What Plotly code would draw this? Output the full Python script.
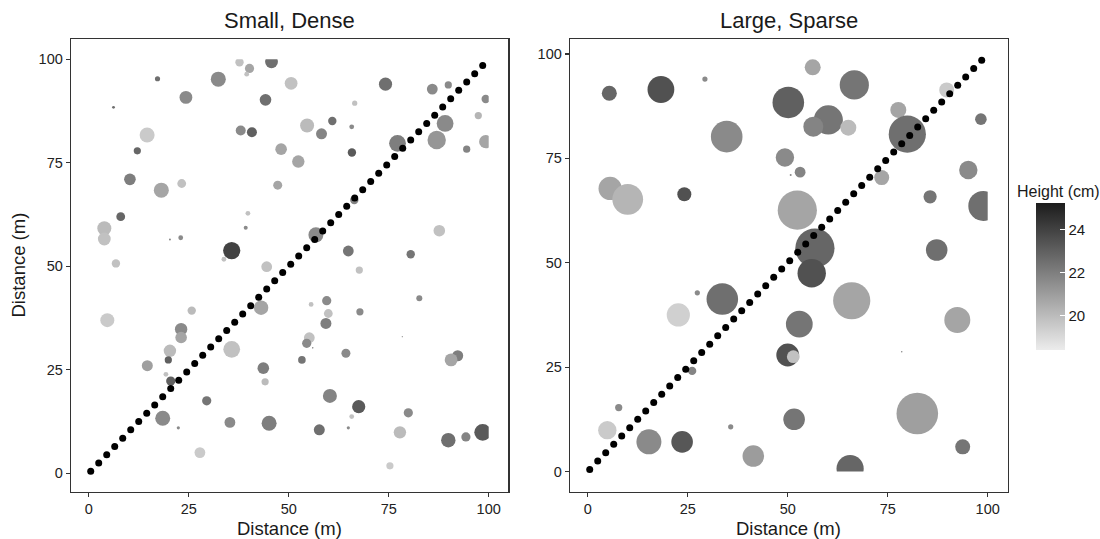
import plotly.graph_objects as go

# ---------------- data ----------------
# Small, Dense panel: crown centre x, y (m), crown diameter (m), height (cm)
x_small = [6.2, 17.2, 32.4, 37.7, 40.2, 39.5, 45.7, 24.3, 50.6, 44.2, 66.5, 74.2, 85.9, 89.9, 99.25,
           97.4, 89.1, 87.0, 77.2, 99.25, 94.5, 65.75, 60.9, 58.2, 54.6, 48.1, 52.4, 65.8, 66.4, 38.0,
           40.8, 47.25, 39.8, 39.25, 35.75, 33.8, 56.8, 64.9, 80.5, 67.65, 87.65, 44.5, 6.8, 3.9, 3.9,
           8.0, 20.3, 23.0, 10.3, 18.15, 23.25, 12.15, 14.6, 4.65, 25.75, 23.1, 23.1, 20.3, 19.9, 14.65,
           19.3, 20.5, 22.4, 18.5, 29.5, 27.8, 35.75, 43.1, 43.65, 44.1, 35.3, 45.1, 55.6, 59.5, 59.9,
           59.3, 55.15, 54.5, 56.0, 53.3, 64.3, 67.8, 82.65, 78.4, 92.25, 90.6, 60.3, 67.5, 65.75, 64.9,
           57.65, 79.9, 77.8, 75.3, 89.9, 94.3, 98.5]
y_small = [88.4, 95.3, 95.2, 99.3, 97.8, 96.4, 99.4, 90.8, 94.2, 90.2, 89.4, 94.0, 92.8, 93.8, 90.4,
           86.4, 84.5, 80.5, 79.7, 80.1, 78.3, 83.7, 85.1, 82.0, 84.0, 78.3, 75.3, 77.5, 66.0, 82.8,
           82.4, 69.6, 62.8, 59.3, 53.8, 51.7, 57.6, 53.7, 52.9, 49.1, 58.6, 49.9, 50.7, 59.2, 56.6,
           62.0, 56.5, 56.9, 71.0, 68.4, 70.0, 77.9, 81.7, 37.0, 39.3, 34.8, 32.8, 29.6, 27.4, 26.0,
           23.9, 22.3, 11.0, 13.3, 17.5, 5.0, 29.95, 40.0, 25.4, 22.1, 12.3, 12.1, 40.8, 41.7, 38.6,
           36.2, 32.75, 31.4, 30.3, 27.4, 29.0, 39.0, 42.3, 33.0, 28.4, 27.4, 18.7, 16.1, 13.7, 11.0,
           10.5, 14.6, 9.9, 1.8, 8.0, 8.8, 9.9]
d_small = [0.7, 1.3, 3.75, 2.1, 2.3, 1.2, 3.2, 3.2, 3.2, 2.9, 1.3, 3.3, 2.7, 1.8, 2.1,
           1.8, 4.2, 4.6, 4.2, 3.3, 1.8, 1.2, 2.1, 2.75, 3.5, 2.9, 3.1, 2.1, 2.1, 2.5,
           2.5, 2.25, 1.2, 1.0, 4.3, 1.2, 3.75, 2.7, 2.1, 1.8, 2.9, 2.7, 2.1, 3.5, 3.2,
           2.2, 0.5, 1.2, 2.9, 3.75, 2.2, 1.8, 3.75, 3.5, 2.1, 3.1, 2.9, 3.1, 1.8, 2.75,
           1.2, 2.3, 0.8, 3.75, 2.3, 2.7, 4.2, 3.6, 2.9, 1.8, 2.7, 3.75, 1.2, 2.3, 2.2,
           2.75, 2.7, 2.3, 0.4, 1.9, 2.25, 1.8, 1.5, 0.3, 2.75, 3.2, 3.5, 3.3, 1.2, 0.8,
           2.75, 2.3, 3.1, 1.8, 3.6, 2.3, 4.2]
h_small = [22.5, 22.5, 21.6, 19.8, 20.7, 19.8, 22.5, 21.6, 19.8, 22.5, 19.8, 22.5, 21.6, 21.6, 21.6,
           20.2, 21.6, 21.2, 22.0, 20.7, 21.8, 21.6, 22.5, 21.8, 20.0, 20.7, 20.7, 23.2, 21.8, 21.6,
           23.0, 20.7, 19.8, 21.6, 24.0, 19.8, 21.6, 22.3, 22.3, 19.8, 19.8, 19.8, 19.8, 20.0, 19.8,
           22.8, 21.6, 21.6, 22.0, 20.7, 19.8, 22.8, 19.5, 19.5, 20.0, 21.6, 20.7, 20.0, 23.0, 20.9,
           19.8, 23.0, 21.6, 21.6, 22.3, 19.5, 19.8, 20.7, 22.0, 20.0, 21.6, 22.0, 19.8, 21.6, 19.8,
           22.0, 19.8, 21.6, 21.6, 22.3, 21.6, 21.6, 21.6, 21.6, 22.0, 20.7, 21.8, 23.2, 19.8, 21.6,
           22.5, 21.6, 20.0, 19.5, 22.5, 21.8, 23.2]

# Large, Sparse panel
x_large = [5.4, 18.3, 29.3, 56.25, 50.15, 66.65, 77.65, 89.75, 98.3, 60.15, 56.4, 65.15, 34.75, 79.9,
           49.3, 50.75, 53.1, 73.5, 95.15, 5.6, 10.0, 24.15, 85.6, 98.9, 52.4, 56.8, 56.0, 87.25,
           27.4, 33.65, 66.0, 22.65, 52.9, 92.4, 50.0, 51.4, 78.5, 26.1, 7.75, 4.9, 15.3, 23.6,
           35.75, 51.6, 41.4, 82.4, 93.75, 65.6]
y_large = [90.6, 91.5, 94.0, 96.8, 88.4, 92.6, 86.6, 91.4, 84.4, 84.2, 82.6, 82.35, 80.2, 80.8,
           75.2, 71.0, 71.7, 70.4, 72.2, 67.8, 65.2, 66.4, 65.8, 63.6, 62.6, 53.5, 47.5, 53.05,
           42.8, 41.3, 40.9, 37.5, 35.3, 36.3, 27.9, 27.5, 28.7, 24.1, 15.3, 9.9, 7.1, 7.1,
           10.7, 12.5, 3.7, 13.9, 5.9, 0.7]
d_large = [3.75, 6.7, 1.3, 4.0, 7.9, 7.3, 4.0, 3.75, 2.9, 7.3, 5.0, 4.0, 7.9, 9.3,
           4.6, 0.5, 2.7, 3.75, 4.6, 5.8, 7.7, 3.5, 3.3, 7.5, 9.8, 9.8, 7.1, 5.4,
           1.3, 7.9, 9.3, 5.8, 6.7, 6.5, 5.7, 3.2, 0.4, 2.1, 1.8, 4.6, 6.25, 5.4,
           1.3, 5.4, 5.4, 10.4, 3.75, 6.8]
h_large = [22.8, 23.5, 21.6, 20.7, 23.0, 22.3, 20.7, 19.5, 22.3, 22.3, 21.8, 20.0, 21.6, 22.5,
           21.6, 21.6, 21.8, 20.7, 21.6, 20.7, 20.2, 23.5, 22.3, 22.5, 20.7, 22.8, 23.5, 22.5,
           21.6, 22.5, 20.7, 19.3, 22.3, 20.7, 23.5, 19.8, 21.6, 21.8, 21.6, 19.5, 21.6, 23.3,
           21.6, 22.3, 21.0, 20.9, 22.3, 22.8]

# diagonal transect points (same in both panels)
transect = [0.5, 2.5, 4.5, 6.5, 8.5, 10.5, 12.5, 14.5, 16.5, 18.5, 20.5, 22.5, 24.5, 26.5, 28.5,
            30.5, 32.5, 34.5, 36.5, 38.5, 40.5, 42.5, 44.5, 46.5, 48.5, 50.5, 52.5, 54.5, 56.5,
            58.5, 60.5, 62.5, 64.5, 66.5, 68.5, 70.5, 72.5, 74.5, 76.5, 78.5, 80.5, 82.5, 84.5,
            86.5, 88.5, 90.5, 92.5, 94.5, 96.5, 98.5]

tick_vals = [0, 25, 50, 75, 100]
tick_text = ["0", "25", "50", "75", "100"]
cbar_ticks = [20, 22, 24]
panel_titles = ["Small, Dense", "Large, Sparse"]
axis_title = "Distance (m)"
legend_title = "Height (cm)"

# ---------------- layout geometry ----------------
W, H = 1100, 539
TOP, BOTTOM = 39.3, 491.7
PANEL_PX = [(71.0, 508.3), (570.0, 1007.7)]
XRANGE = [(-4.43, 104.9), (-4.43, 105.0)]
YRANGE = [(-4.44, 104.83), (-4.84, 103.52)]
HMIN, HMAX = 18.37, 25.24
GREYS = [[0, "rgb(236,236,236)"], [1, "rgb(28,28,28)"]]
FONT = "Liberation Sans, Arial, sans-serif"
INK = "#1a1a1a"
BORDER = "#333333"

yd = [(H - BOTTOM) / H, (H - TOP) / H]

fig = go.Figure()
layout = dict(
    width=W, height=H, margin=dict(l=0, r=0, t=0, b=0),
    paper_bgcolor="white", plot_bgcolor="white", showlegend=False,
    font=dict(family=FONT, color=INK),
)


def sub(d, r, a, b):
    return [d[0] + (a - r[0]) / (r[1] - r[0]) * (d[1] - d[0]),
            d[0] + (b - r[0]) / (r[1] - r[0]) * (d[1] - d[0])]


datasets = [(x_small, y_small, d_small, h_small), (x_large, y_large, d_large, h_large)]
annotations = []
for i, ((pl, pr), xr, yr, data) in enumerate(zip(PANEL_PX, XRANGE, YRANGE, datasets)):
    xd = [pl / W, pr / W]
    main_x = "xaxis" if i == 0 else "xaxis2"
    main_y = "yaxis" if i == 0 else "yaxis2"
    inner_x = "xaxis3" if i == 0 else "xaxis4"
    inner_y = "yaxis3" if i == 0 else "yaxis4"
    mx_ref = "x" if i == 0 else "x2"
    my_ref = "y" if i == 0 else "y2"
    ix_ref = "x3" if i == 0 else "x4"
    iy_ref = "y3" if i == 0 else "y4"

    axis_common = dict(
        showgrid=False, zeroline=False, showline=True, mirror=True,
        linecolor=BORDER, linewidth=1.3, ticks="outside", ticklen=4, tickwidth=1.1,
        tickcolor=BORDER, tickvals=tick_vals, ticktext=tick_text,
        tickfont=dict(family=FONT, size=14.5, color="#222222"), fixedrange=True,
    )
    layout[main_x] = dict(axis_common, domain=xd, range=list(xr), anchor=my_ref)
    layout[main_y] = dict(axis_common, domain=yd, range=list(yr), anchor=mx_ref)

    # inner axes covering exactly 0..100, used to clip crowns at the plot boundary
    layout[inner_x] = dict(domain=sub(xd, xr, 0, 100), range=[0, 100], visible=False,
                           anchor=iy_ref, fixedrange=True)
    layout[inner_y] = dict(domain=sub(yd, yr, 0, 100), range=[0, 100], visible=False,
                           anchor=ix_ref, fixedrange=True)

    # invisible anchor trace so the framed main axes get drawn
    fig.add_trace(go.Scatter(x=[50], y=[50], xaxis=mx_ref, yaxis=my_ref, mode="markers",
                             marker=dict(opacity=0, size=1), hoverinfo="skip"))

    px_per_m = (pr - pl) / (xr[1] - xr[0])
    xs, ys, ds, hs = data
    fig.add_trace(go.Scatter(
        x=xs, y=ys, xaxis=ix_ref, yaxis=iy_ref, mode="markers",
        marker=dict(size=[d * px_per_m for d in ds], color=hs, colorscale=GREYS,
                    cmin=HMIN, cmax=HMAX, line=dict(width=0), opacity=1,
                    showscale=(i == 1),
                    colorbar=dict(
                        x=1036 / W, xanchor="left", y=(H - 276.7) / H, yanchor="middle",
                        lenmode="pixels", len=146.7, thickness=29, xpad=0, ypad=0,
                        outlinewidth=0, tickvals=cbar_ticks, ticks="inside", ticklen=5,
                        tickcolor="white", tickwidth=1,
                        tickfont=dict(family=FONT, size=15, color=INK),
                    )),
        hoverinfo="skip",
    ))
    fig.add_trace(go.Scatter(
        x=transect, y=transect, xaxis=ix_ref, yaxis=iy_ref, mode="markers",
        marker=dict(size=7, color="black", line=dict(width=0)), hoverinfo="skip",
        cliponaxis=False,
    ))

    cx = (pl + pr) / 2
    annotations.append(dict(text=panel_titles[i], x=cx / W, y=(H - 20.7) / H, xref="paper",
                            yref="paper", showarrow=False, xanchor="center", yanchor="middle",
                            font=dict(family=FONT, size=22, color=INK)))
    annotations.append(dict(text=axis_title, x=cx / W, y=(H - 528.3) / H, xref="paper",
                            yref="paper", showarrow=False, xanchor="center", yanchor="middle",
                            font=dict(family=FONT, size=18.5, color=INK)))

annotations.append(dict(text=axis_title, x=18 / W, y=(H - (TOP + BOTTOM) / 2) / H, xref="paper",
                        yref="paper", showarrow=False, xanchor="center", yanchor="middle",
                        textangle=-90, font=dict(family=FONT, size=18.5, color=INK)))
annotations.append(dict(text=legend_title, x=1015 / W, y=(H - 191.7) / H, xref="paper",
                        yref="paper", showarrow=False, xanchor="left", yanchor="middle",
                        font=dict(family=FONT, size=16, color=INK)))
layout["annotations"] = annotations

fig.update_layout(**layout)
fig.write_html(
    "out.html",
    config={"displayModeBar": False, "staticPlot": True},
    post_script="document.body.style.margin='0';document.body.style.overflow='hidden';",
)
